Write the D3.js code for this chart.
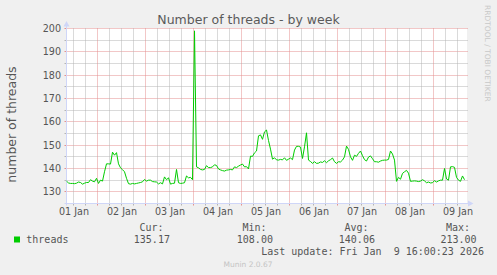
<!DOCTYPE html>
<html><head><meta charset="utf-8">
<script src="https://cdn.jsdelivr.net/npm/d3@7"></script>
<style>html,body{margin:0;padding:0;background:#f0f0f0;overflow:hidden}svg{display:block}</style>
</head><body><svg id="c" width="497" height="275"></svg>
<script>
// ---------- data ----------
const chartTitle = "Number of threads - by week";
const yAxisLabel = "number of threads";
const seriesName = "threads";
const seriesStart = Date.UTC(2026, 0, 1, 8, 30); // first sample
const stepHours = 1;
const threads = [
134.6,133.8,133.6,133.6,133.5,133.7,134.2,134.0,133.3,133.7,
134.0,134.0,135.2,134.6,134.3,135.8,133.6,135.0,134.6,138.6,
142.0,142.0,141.9,147.0,145.7,146.8,142.0,140.3,139.5,138.6,
135.8,133.5,133.3,133.6,133.4,133.6,133.8,134.0,134.3,135.3,
134.6,135.0,135.0,134.4,134.3,134.2,133.4,133.9,133.4,136.4,
135.2,136.0,133.3,133.6,133.7,139.6,133.9,133.6,133.7,133.9,
136.8,136.0,136.2,135.2,199.0,140.7,140.3,139.6,139.4,139.6,
141.2,140.4,140.4,140.7,141.6,141.3,139.8,139.4,139.1,138.9,
139.3,139.4,139.6,139.4,140.7,140.4,141.0,141.5,141.9,140.7,
140.8,139.8,145.3,145.2,146.7,147.5,154.0,154.4,152.5,155.7,
156.5,152.0,148.3,144.0,144.6,143.7,143.6,143.9,143.7,144.6,
143.5,144.0,144.5,143.8,147.9,149.5,149.5,149.2,144.3,149.3,
155.3,143.6,143.0,142.2,142.9,142.2,142.3,142.8,142.6,143.3,
142.5,143.3,143.8,144.5,142.9,142.2,142.9,142.8,143.6,145.0,
149.6,148.2,145.0,143.5,145.7,145.2,146.5,147.5,145.5,143.8,
143.2,144.9,145.4,144.2,142.9,142.9,142.7,143.2,143.5,143.6,
143.6,143.9,147.5,146.2,143.6,134.5,136.2,135.4,137.9,138.6,
139.2,138.0,134.5,134.6,134.7,134.6,134.4,134.6,135.2,134.7,
133.9,134.2,133.8,133.9,134.8,134.2,134.7,135.0,135.0,140.0,
135.5,135.0,140.7,140.8,140.5,136.2,135.0,134.5,136.8,135.2
];
const yDomain = [125, 200];
const yTickValues = [130, 140, 150, 160, 170, 180, 190, 200];
const dayLabels = ["01 Jan","02 Jan","03 Jan","04 Jan","05 Jan","06 Jan","07 Jan","08 Jan","09 Jan"];
const statLabels = ["Cur:", "Min:", "Avg:", "Max:"];
const statValues = ["135.17", "108.00", "140.06", "213.00"];
const lastUpdate = "Last update: Fri Jan  9 16:00:23 2026";
const watermark = "RRDTOOL / TOBI OETIKER";
const footer = "Munin 2.0.67";

// ---------- layout ----------
const W = 497, H = 275;
const L = 66.5, R = 466.5, T = 28.5, B = 203.5;
const HOUR = 3600e3;
const sans = "'DejaVu Sans', sans-serif";
const mono = "'DejaVu Sans Mono', monospace";
const minorCol = "#b4b4b4", majorCol = "#e58f8f", axisCol = "#cfd6f8", txtCol = "#555";

const svg = d3.select("#c");
svg.append("rect").attr("width", W).attr("height", H).attr("fill", "#f0f0f0");

const x = d3.scaleUtc()
  .domain([new Date(seriesStart), new Date(seriesStart + 200 * HOUR)])
  .range([L, R]);
const y = d3.scaleLinear().domain(yDomain).range([B, T]);
const px = v => Math.round(v - 0.5) + 0.5;

// canvas
svg.append("rect").attr("x", 66).attr("y", 28).attr("width", 401).attr("height", 176).attr("fill", "#fff");

const grid = svg.append("g");
// horizontal grid
const yMinor = d3.range(130, 201, 5);
yMinor.forEach(v => {
  const major = v % 10 === 0;
  const yy = px(y(v));
  grid.append("line").attr("x1", L - 2).attr("x2", L).attr("y1", yy).attr("y2", yy)
    .attr("stroke", major ? majorCol : minorCol);
  grid.append("line").attr("x1", L).attr("x2", R + 1).attr("y1", yy).attr("y2", yy)
    .attr("stroke", major ? majorCol : minorCol).attr("stroke-dasharray", "1,1");
});
// vertical grid
const d0 = new Date(seriesStart), d1 = new Date(seriesStart + 200 * HOUR);
d3.utcHour.every(6).range(d0, d1).forEach(t => {
  const major = t.getUTCHours() === 0;
  const xx = px(x(t));
  grid.append("line").attr("x1", xx).attr("x2", xx).attr("y1", B).attr("y2", B + 2)
    .attr("stroke", major ? majorCol : minorCol);
  grid.append("line").attr("x1", xx).attr("x2", xx).attr("y1", B).attr("y2", T)
    .attr("stroke", major ? majorCol : minorCol).attr("stroke-dasharray", "1,1");
});

// axes lines + arrows
svg.append("line").attr("x1", L).attr("x2", L).attr("y1", B + 2).attr("y2", 26).attr("stroke", axisCol);
svg.append("line").attr("x1", L - 2).attr("x2", 468).attr("y1", B).attr("y2", B).attr("stroke", axisCol);
svg.append("path").attr("d", `M63.5,26.5L69.5,26.5L66.5,21Z`).attr("fill", axisCol);
svg.append("path").attr("d", `M468,200.5L468,206.5L473.5,203.5Z`).attr("fill", axisCol);

// y axis labels
const yAxis = d3.axisLeft(y).tickValues(yTickValues).tickSize(0).tickPadding(5.5);
const gy = svg.append("g").attr("transform", `translate(${L},0)`).call(yAxis);
gy.select(".domain").remove();
gy.selectAll("text").attr("font-family", sans).attr("font-size", "9.6px").attr("fill", txtCol);

// x axis labels (noon of each day)
const noons = dayLabels.map((_, i) => new Date(Date.UTC(2026, 0, 1 + i, 12)));
const xAxis = d3.axisBottom(x).tickValues(noons).tickSize(0).tickPadding(4.8)
  .tickFormat((d, i) => dayLabels[i]);
const gx = svg.append("g").attr("transform", `translate(0,${B})`).call(xAxis);
gx.select(".domain").remove();
gx.selectAll("text").attr("font-family", sans).attr("font-size", "9.6px").attr("fill", txtCol);

// data line
const line = d3.line()
  .x((d, i) => x(new Date(seriesStart + i * stepHours * HOUR)))
  .y(d => y(d));
svg.append("path").datum(threads).attr("d", line)
  .attr("fill", "none").attr("stroke", "#00cc00").attr("stroke-width", 1)
  .attr("stroke-linejoin", "round");

// title
svg.append("text").attr("x", 248.5).attr("y", 23.5).attr("text-anchor", "middle")
  .attr("font-family", sans).attr("font-size", "12.5px").attr("fill", "#5a5a5a").text(chartTitle);
// y label
svg.append("text").attr("transform", "translate(15.5,124.5) rotate(-90)").attr("text-anchor", "middle")
  .attr("font-family", sans).attr("font-size", "12.5px").attr("fill", txtCol).text(yAxisLabel);
// watermark
svg.append("text").attr("transform", "translate(484.5,5) rotate(90)").attr("text-anchor", "start")
  .attr("font-family", sans).attr("font-size", "7.5px").attr("fill", "#c8c8c8").text(watermark);

// legend
svg.append("rect").attr("x", 14).attr("y", 236.5).attr("width", 6).attr("height", 6).attr("fill", "#00cc00");
svg.append("text").attr("x", 26.3).attr("y", 242.5).attr("font-family", mono).attr("font-size", "10px")
  .attr("fill", txtCol).text(seriesName);
const headX = [139.5, 242.5, 344.5, 446];
const valX = [133.8, 236.8, 338.8, 440.5];
statLabels.forEach((s, i) => {
  svg.append("text").attr("x", headX[i]).attr("y", 231).attr("font-family", mono).attr("font-size", "10px")
    .attr("fill", txtCol).text(s);
  svg.append("text").attr("x", valX[i]).attr("y", 242.5).attr("font-family", mono).attr("font-size", "10px")
    .attr("fill", txtCol).text(statValues[i]);
});
svg.append("text").attr("x", 261.2).attr("y", 255).attr("font-family", mono).attr("font-size", "10px")
  .attr("fill", txtCol).style("white-space", "pre").text(lastUpdate);
svg.append("text").attr("x", 248).attr("y", 267).attr("text-anchor", "middle").attr("font-family", sans)
  .attr("font-size", "7.5px").attr("fill", "#c4c4c4").text(footer);
</script></body></html>
